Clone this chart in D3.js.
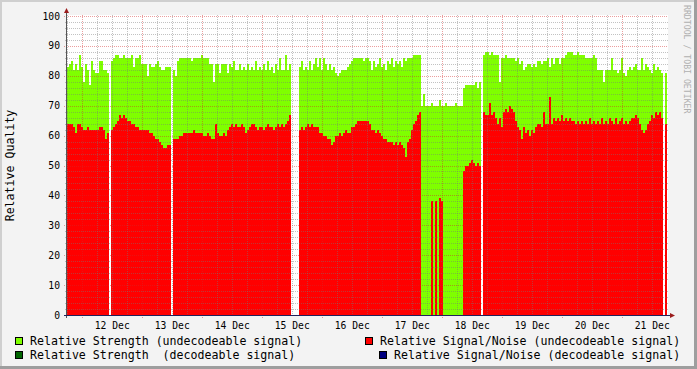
<!DOCTYPE html>
<html><head><meta charset="utf-8">
<script src="https://cdn.jsdelivr.net/npm/d3@7"></script>
<style>html,body{margin:0;padding:0;background:#f3f3f3}svg{display:block}</style>
</head><body><svg id="c" width="697" height="369"></svg>
<script>
// ---- data ----
const startTime = Date.UTC(2010, 11, 11, 17, 53);   // first sample
const stepMinutes = 48;                                // sample spacing
const spanDays = 10;

// Relative Strength (undecodeable signal)
const strength = [
 83,84,85,82,84,82,87,83,78,84,82,77,85,82,81,81,85,85,82,82,81,
 null,
 85,86,87,87,86,86,87,86,86,86,87,83,86,86,87,
 84,84,84,80,84,83,83,84,85,83,82,82,83,83,83,
 null,
 82,80,85,86,86,86,86,86,86,85,
 86,86,86,86,87,86,86,86,84,84,
 78,84,84,81,84,84,84,81,84,83,
 85,82,82,84,82,83,82,84,82,83,
 82,85,82,83,82,84,82,85,82,83,
 81,84,82,86,82,82,87,82,84,
 null,null,null,null,
 83,85,82,83,82,85,82,84,86,83,
 86,82,86,84,82,84,82,83,81,80,
 81,82,82,82,83,84,85,86,86,86,
 86,86,85,86,86,85,82,85,83,84,
 86,83,84,82,85,84,86,83,85,84,
 85,83,86,85,86,86,86,87,87,87,
 87,
 70,74,70,70,70,71,70,70,70,72,70,70,71,70,70,70,70,71,70,70,70,
 76,77,77,77,77,77,78,76,78,
 null,
 87,88,88,87,88,87,87,87,78,86,
 86,87,86,86,86,86,85,86,84,85,
 82,83,84,84,83,84,83,85,85,84,
 85,85,86,83,86,84,86,86,84,86,
 86,87,88,88,88,87,87,88,87,87,
 87,86,86,86,86,87,86,82,82,82,
 78,82,82,82,86,82,82,81,82,86,
 81,80,82,83,82,83,84,82,82,86,
 82,84,83,82,81,84,82,83,82,81,
 null,81
];

// Relative Signal/Noise (undecodeable signal)
const snr = [
 64,64,64,63,61,64,64,63,62,62,63,62,62,62,62,62,63,63,62,59,61,
 null,
 62,63,64,65,67,66,67,66,65,65,64,64,63,63,62,
 62,62,62,62,61,61,60,59,59,58,57,56,56,57,57,
 null,
 59,59,59,60,60,61,61,61,61,61,
 62,61,61,61,61,60,60,61,60,59,
 59,64,61,60,60,61,60,62,63,64,
 63,64,63,63,64,63,61,62,63,64,
 64,63,62,63,63,62,63,64,63,63,
 62,63,64,63,64,63,64,65,67,
 null,null,null,null,
 62,63,62,63,64,63,64,63,63,63,
 61,61,60,60,59,59,57,58,60,60,
 61,60,61,62,61,61,63,63,64,65,
 65,65,65,65,65,64,62,62,61,62,
 61,60,59,59,58,58,58,57,58,57,
 58,57,56,53,58,59,62,64,65,67,
 68,
 0,0,0,0,0,38,0,38,0,39,38,0,0,0,0,0,0,0,0,0,0,
 48,50,50,51,52,51,50,51,50,
 null,
 68,67,67,71,67,68,66,64,66,63,
 68,69,68,70,69,68,65,63,62,59,
 63,61,62,60,62,61,63,64,64,63,
 68,64,64,73,64,66,65,66,65,67,
 65,66,65,66,65,65,64,65,64,65,
 64,65,64,66,64,65,64,65,64,66,
 64,65,64,66,65,64,66,64,65,66,
 64,65,64,65,66,66,67,66,64,62,
 61,62,64,65,67,66,68,67,68,66,
 null,64
];

const yMax = 100;
const yMinorStep = 2;
const yMajorStep = 10;
const yLabel = "Relative Quality";
const watermark = "RRDTOOL / TOBI OETIKER";
const legendNames = [
  "Relative Strength (undecodeable signal)",
  "Relative Strength  (decodeable signal)",
  "Relative Signal/Noise (undecodeable signal)",
  "Relative Signal/Noise (decodeable signal)"
];
const legendColors = ["#7FFF00", "#006400", "#FF0000", "#000080"];

// ---- drawing ----
const W = 697, H = 369;
const L = 67, R = 667, T = 16, B = 315;
const svg = d3.select("#c");
const mono = "'DejaVu Sans Mono', monospace";

svg.append("rect").attr("width", W).attr("height", H).attr("fill", "#f3f3f3");
// shade border
svg.append("rect").attr("x", 0).attr("y", 0).attr("width", W).attr("height", 2).attr("fill", "#cfcfcf");
svg.append("rect").attr("x", 0).attr("y", 0).attr("width", 2).attr("height", H).attr("fill", "#cfcfcf");
svg.append("rect").attr("x", 0).attr("y", H - 3).attr("width", W).attr("height", 3).attr("fill", "#9e9e9e");
svg.append("rect").attr("x", W - 3).attr("y", 0).attr("width", 3).attr("height", H).attr("fill", "#9e9e9e");

const t0 = new Date(startTime);
const t1 = new Date(startTime + spanDays * 864e5);
const x = d3.scaleUtc().domain([t0, t1]).range([L, R]);
const y = d3.scaleLinear().domain([0, yMax]).range([B, T]);

svg.append("rect").attr("x", L).attr("y", T - 1).attr("width", R - L + 1).attr("height", B - T + 1).attr("fill", "#ffffff");

const stepMs = stepMinutes * 60000;
function runs(vals) {
  const pts = [];
  vals.forEach((v, i) => {
    if (v == null) { pts.push({t: null, v: null}); return; }
    pts.push({t: new Date(startTime + i * stepMs), v});
    if (i === vals.length - 1 || vals[i + 1] == null)
      pts.push({t: new Date(startTime + (i + 1) * stepMs), v});
  });
  return pts;
}
const area = d3.area()
  .defined(d => d.v != null)
  .x(d => x(d.t))
  .y0(y(0) + 0.5)
  .y1(d => y(d.v))
  .curve(d3.curveStepAfter);

const g = svg.append("g").attr("shape-rendering", "crispEdges");
g.append("path").datum(runs(strength)).attr("d", area).attr("fill", legendColors[0]);
g.append("path").datum(runs(snr)).attr("d", area).attr("fill", legendColors[2]);

// grid
const grid = svg.append("g").attr("shape-rendering", "crispEdges");
const minorCol = "rgba(120,120,120,0.45)";
const majorCol = "rgba(210,40,40,0.45)";
const yMinor = d3.range(0, yMax + 1, yMinorStep).filter(v => v % yMajorStep !== 0);
const yMajor = d3.range(0, yMax + 1, yMajorStep);
const py = v => Math.round(y(v)) + 0.5;
grid.selectAll(".ymin").data(yMinor).enter().append("line")
  .attr("x1", L - 2).attr("x2", R + 1).attr("y1", py).attr("y2", py)
  .attr("stroke", minorCol).attr("stroke-dasharray", "1,1");
grid.selectAll(".ymaj").data(yMajor.filter(v => v > 0)).enter().append("line")
  .attr("x1", L - 3).attr("x2", R + 1).attr("y1", py).attr("y2", py)
  .attr("stroke", majorCol).attr("stroke-dasharray", "1,1");

const xMinor = d3.utcHour.every(6).range(t0, t1).filter(d => d.getUTCHours() !== 0);
const xMajor = d3.utcDay.range(t0, t1);
const px = d => Math.round(x(d)) + 0.5;
grid.selectAll(".xmin").data(xMinor).enter().append("line")
  .attr("x1", px).attr("x2", px).attr("y1", T - 1).attr("y2", B + 2)
  .attr("stroke", minorCol).attr("stroke-dasharray", "1,1");
grid.selectAll(".xmaj").data(xMajor).enter().append("line")
  .attr("x1", px).attr("x2", px).attr("y1", T - 1).attr("y2", B + 3)
  .attr("stroke", majorCol).attr("stroke-dasharray", "1,1");

// axes
svg.append("line").attr("x1", L - 0.5).attr("x2", L - 0.5).attr("y1", 11).attr("y2", B + 3)
  .attr("stroke", "#555").attr("stroke-width", 1);
svg.append("line").attr("x1", L - 3).attr("x2", R + 4).attr("y1", B + 0.5).attr("y2", B + 0.5)
  .attr("stroke", "#22225a").attr("stroke-width", 1);
svg.append("path").attr("d", `M${L - 3},${13} L${L - 0.5},${8} L${L + 2},${13} Z`).attr("fill", "#9b1c1c");
svg.append("path").attr("d", `M${R + 3},${B - 2} L${R + 8},${B + 0.5} L${R + 3},${B + 3} Z`).attr("fill", "#9b1c1c");

// y labels
svg.selectAll(".yl").data(yMajor).enter().append("text")
  .attr("x", 60).attr("y", v => y(v) + 3.5).attr("text-anchor", "end")
  .attr("font-family", mono).attr("font-size", "9.7px").attr("fill", "#000")
  .text(d => d);

// x labels at noon
const fmt = d3.utcFormat("%d %b");
svg.selectAll(".xl").data(xMajor).enter().append("text")
  .attr("x", d => x(d3.utcHour.offset(d, 12)))
  .attr("y", 328.5).attr("text-anchor", "middle")
  .attr("font-family", mono).attr("font-size", "9.7px").attr("fill", "#000")
  .text(fmt);

// y-axis title
svg.append("text").attr("transform", `translate(14,${(T + B) / 2}) rotate(-90)`)
  .attr("text-anchor", "middle").attr("font-family", mono).attr("font-size", "11.6px")
  .attr("fill", "#000").text(yLabel);

// watermark
svg.append("text").attr("transform", `translate(684,5) rotate(90)`)
  .attr("font-family", mono).attr("font-size", "8.2px").attr("fill", "#b0b0b0")
  .text(watermark);

// legend
const legendPos = [
  {sx: 15.5, sy: 337.5, tx: 30, ty: 345},
  {sx: 15.5, sy: 351.5, tx: 30, ty: 359},
  {sx: 365.5, sy: 337.5, tx: 380, ty: 345},
  {sx: 379.5, sy: 351.5, tx: 394, ty: 359}
];
legendNames.forEach((name, i) => {
  const p = legendPos[i];
  svg.append("rect").attr("x", p.sx).attr("y", p.sy).attr("width", 7).attr("height", 7)
    .attr("fill", legendColors[i]).attr("stroke", "#000").attr("stroke-width", 1);
  svg.append("text").attr("x", p.tx).attr("y", p.ty)
    .attr("font-family", mono).attr("font-size", "11.6px").attr("fill", "#000")
    .attr("xml:space", "preserve").style("white-space", "pre").text(name);
});
</script></body></html>
